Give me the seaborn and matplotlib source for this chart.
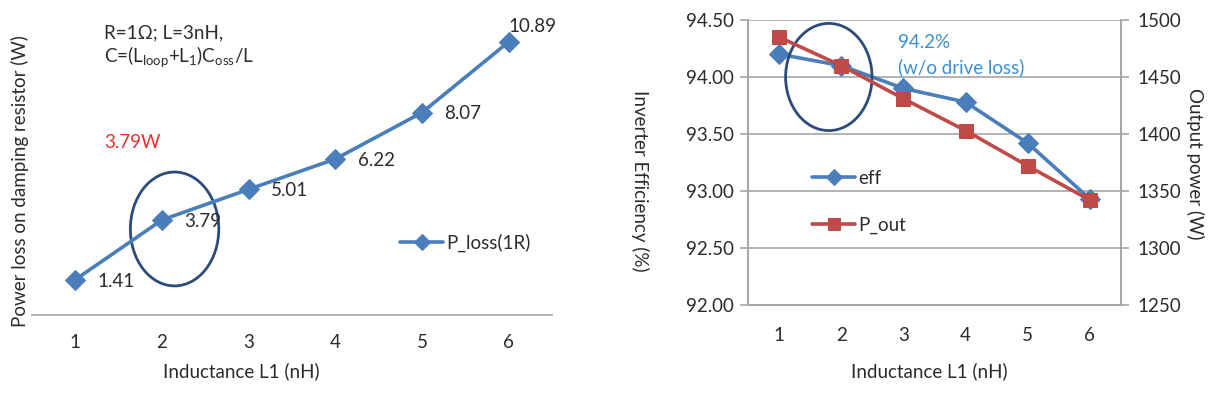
import matplotlib
matplotlib.use("Agg")
import matplotlib.pyplot as plt
from matplotlib.patches import Ellipse
import seaborn as sns
import pandas as pd

# ---------------- data ----------------
inductance = [1, 2, 3, 4, 5, 6]
p_loss = [1.41, 3.79, 5.01, 6.22, 8.07, 10.89]
p_loss_labels = ["1.41", "3.79", "5.01", "6.22", "8.07", "10.89"]
eff = [94.20, 94.10, 93.90, 93.78, 93.42, 92.93]
p_out = [1485, 1460, 1431, 1403, 1372, 1342]
eff_ticks = [92.00, 92.50, 93.00, 93.50, 94.00, 94.50]
pout_ticks = [1250, 1300, 1350, 1400, 1450, 1500]

sns.set_theme(style="white")
plt.rcParams["font.family"] = ["Lato", "DejaVu Sans"]

BLUE = "#4a7ebb"
RED = "#be4b48"
NAVY = "#2d4b7a"
GRID = "#a6a6a6"
TXT = "#2b2b2b"
FS = 13.5

W, H = 1222, 397
fig = plt.figure(figsize=(W / 100, H / 100), dpi=100)

def fx(px):
    return px / W

def fy(py):
    return 1 - py / H

# ---------------- left chart ----------------
axL = fig.add_axes([fx(32), fy(315), fx(552) - fx(32), fy(14) - fy(315)])
dfL = pd.DataFrame({"L1": inductance, "P_loss(1R)": p_loss})
sns.lineplot(data=dfL, x="L1", y="P_loss(1R)", ax=axL, color=BLUE, lw=2.6,
             marker="D", markersize=10, markeredgecolor=BLUE, label="P_loss(1R)")
axL.set_xlim(0.5, 6.5)
axL.set_ylim(0, 12)
axL.set_yticks([])
axL.set_xticks(inductance)
axL.set_xticklabels([str(v) for v in inductance], fontsize=FS, color=TXT)
axL.tick_params(axis="x", length=0, pad=14)
for s in ["top", "left", "right"]:
    axL.spines[s].set_visible(False)
axL.spines["bottom"].set_color(GRID)
axL.spines["bottom"].set_linewidth(1.2)
axL.set_xlabel("")
axL.set_ylabel("")
fig.text(fx(241), fy(371), "Inductance L1 (nH)", fontsize=FS, color=TXT,
         ha="center", va="center")
fig.text(fx(20), fy(181), "Power loss on damping resistor (W)", fontsize=FS,
         color=TXT, rotation=90, ha="center", va="center")

for i, (xv, yv, lab) in enumerate(zip(inductance, p_loss, p_loss_labels)):
    if i == len(inductance) - 1:
        axL.annotate(lab, (xv, yv), xytext=(0, 11), textcoords="offset points",
                     fontsize=FS, color=TXT, ha="left", va="center")
    else:
        axL.annotate(lab, (xv, yv), xytext=(16, -1), textcoords="offset points",
                     fontsize=FS, color=TXT, ha="left", va="center")

axL.add_patch(Ellipse((2.145, 3.43), 1.02, 4.54, fill=False, ec=NAVY, lw=2.0))
fig.text(fx(104), fy(33), "R=1Ω; L=3nH,", fontsize=FS, color=TXT, ha="left", va="center")
fig.text(fx(104), fy(57), r"C=(L$_{\mathregular{loop}}$+L$_{\mathregular{1}}$)C$_{\mathregular{oss}}$/L",
         fontsize=FS, color=TXT, ha="left", va="center")
fig.text(fx(104), fy(143), "3.79W", fontsize=FS, color="#e8312f", ha="left", va="center")

legL = axL.legend(loc="center left", bbox_to_anchor=((400 - 32) / 520, (315 - 243) / 301),
                  frameon=False, fontsize=FS, handlelength=2.3, handletextpad=0.15,
                  markerscale=0.8, borderaxespad=0, borderpad=0)
for t in legL.get_texts():
    t.set_color(TXT)

# ---------------- right chart ----------------
axR = fig.add_axes([fx(748), fy(305), fx(1121) - fx(748), fy(20) - fy(305)])
axR2 = axR.twinx()
dfR = pd.DataFrame({"L1": inductance, "eff": eff, "P_out": p_out})
sns.lineplot(data=dfR, x="L1", y="eff", ax=axR, color=BLUE, lw=2.6, marker="D",
             markersize=10, markeredgecolor=BLUE, label="eff", legend=False)
sns.lineplot(data=dfR, x="L1", y="P_out", ax=axR2, color=RED, lw=2.6, marker="s",
             markersize=9.5, markeredgecolor=RED, label="P_out", legend=False)
axR.set_xlim(0.5, 6.5)
axR.set_ylim(92.0, 94.5)
axR2.set_ylim(1250, 1500)
axR.set_yticks(eff_ticks)
axR.set_yticklabels([f"{v:.2f}" for v in eff_ticks], fontsize=FS, color=TXT)
axR2.set_yticks(pout_ticks)
axR2.set_yticklabels([str(v) for v in pout_ticks], fontsize=FS, color=TXT)
axR.set_xticks(inductance)
axR.set_xticklabels([str(v) for v in inductance], fontsize=FS, color=TXT)
axR.set_xticks([0.5 + k for k in range(7)], minor=True)
axR.tick_params(axis="x", which="major", length=0, pad=16)
axR.tick_params(axis="x", which="minor", length=6, color=GRID, width=1.2, direction="out")
axR.tick_params(axis="y", length=6, color=GRID, width=1.2, direction="out", pad=4)
axR2.tick_params(axis="y", length=6, color=GRID, width=1.2, direction="out", pad=6)
axR.grid(axis="y", color=GRID, lw=1.2)
axR.set_axisbelow(True)
for ax in (axR, axR2):
    for s in ["left", "right", "bottom"]:
        ax.spines[s].set_color(GRID)
        ax.spines[s].set_linewidth(1.2)
    ax.spines["top"].set_visible(False)
    ax.set_xlabel("")
    ax.set_ylabel("")
fig.text(fx(929), fy(371), "Inductance L1 (nH)", fontsize=FS, color=TXT, ha="center", va="center")
fig.text(fx(640), fy(181), "Inverter Efficiency (%)", fontsize=FS, color=TXT,
         rotation=270, ha="center", va="center")
fig.text(fx(1195), fy(164), "Output power (W)", fontsize=FS, color=TXT,
         rotation=270, ha="center", va="center")

axR2.add_patch(Ellipse((1.80, 1450), 1.39, 94, fill=False, ec=NAVY, lw=2.0))
fig.text(fx(898), fy(42), "94.2%", fontsize=FS, color="#3b8fd4", ha="left", va="center")
fig.text(fx(898), fy(67), "(w/o drive loss)", fontsize=FS, color="#3b8fd4", ha="left", va="center")

h1, l1 = axR.get_legend_handles_labels()
h2, l2 = axR2.get_legend_handles_labels()
legR = axR2.legend(h1 + h2, l1 + l2, loc="upper left",
                   bbox_to_anchor=((812 - 748) / 373, (305 - 170) / 285),
                   frameon=False, fontsize=FS, handlelength=2.3, handletextpad=0.15,
                   markerscale=0.85, labelspacing=1.6, borderaxespad=0, borderpad=0)
for t in legR.get_texts():
    t.set_color(TXT)

fig.savefig("out.png", dpi=100)
